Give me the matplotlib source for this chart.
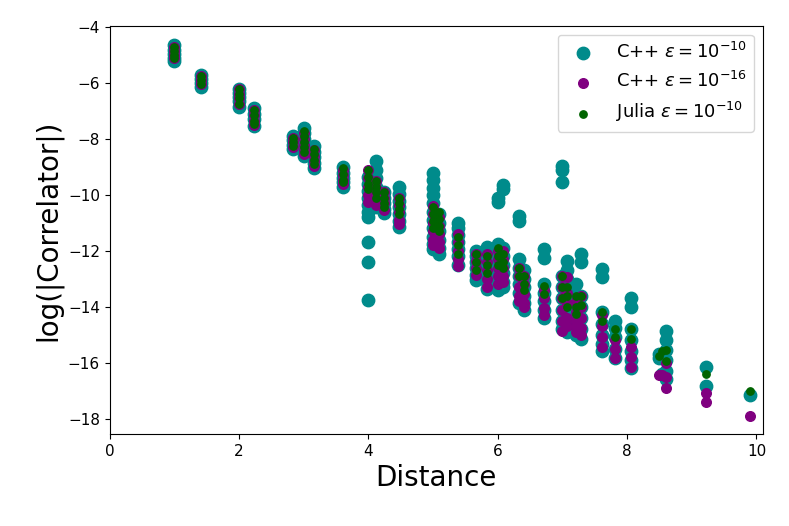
import numpy as np
import matplotlib
matplotlib.use("Agg")
import matplotlib.pyplot as plt

# ---- Data -----------------------------------------------------------------
# distances between sites (sqrt of integer squared distances)
dist = [1.0, 1.414, 2.0, 2.236, 2.828, 3.0, 3.162, 3.606, 4.0, 4.123, 4.243,
        4.472, 5.0, 5.099, 5.385, 5.657, 5.831, 6.0, 6.083, 6.325, 6.403,
        6.708, 7.0, 7.071, 7.211, 7.280, 7.616, 7.810, 8.062, 8.485, 8.544,
        8.602, 9.220, 9.899]

# C++ eps = 1e-10
cpp10_vals = [
    [-4.65, -4.8, -4.95, -5.1, -5.2],
    [-5.7, -5.85, -6.0, -6.15],
    [-6.2, -6.35, -6.5, -6.65, -6.85],
    [-6.9, -7.1, -7.3, -7.55],
    [-7.9, -8.05, -8.2, -8.35],
    [-7.6, -7.8, -8.0, -8.2, -8.4, -8.6],
    [-8.25, -8.45, -8.65, -8.85, -9.05],
    [-9.0, -9.2, -9.4, -9.55, -9.7],
    [-9.35, -9.6, -9.85, -10.1, -10.35, -10.6, -10.8, -11.7, -12.4, -13.75],
    [-8.8, -9.1, -9.4, -9.7, -10.0, -10.3, -10.45],
    [-9.9, -10.1, -10.3, -10.5, -10.65],
    [-9.7, -9.95, -10.2, -10.45, -10.7, -10.95, -11.15],
    [-9.2, -9.45, -9.75, -10.0, -10.3, -10.6, -10.9, -11.2, -11.5, -11.75, -11.95],
    [-10.7, -11.0, -11.3, -11.6, -11.9, -12.1],
    [-11.0, -11.2, -11.45, -11.7, -11.95, -12.2, -12.5],
    [-12.0, -12.2, -12.4, -12.6, -12.85, -13.05],
    [-11.85, -12.1, -12.35, -12.6, -12.85, -13.1, -13.35],
    [-10.1, -10.25, -11.75, -12.0, -12.3, -12.6, -12.9, -13.2, -13.4],
    [-9.65, -9.8, -11.9, -12.2, -12.5, -12.8, -13.1, -13.3],
    [-10.75, -10.95, -12.3, -12.6, -12.9, -13.2, -13.5, -13.85],
    [-12.7, -13.0, -13.3, -13.6, -13.85, -14.1],
    [-11.95, -12.25, -13.2, -13.5, -13.8, -14.1, -14.4],
    [-8.95, -9.1, -9.55, -12.9, -13.3, -13.7, -14.1, -14.5, -14.8],
    [-12.35, -12.7, -13.0, -13.4, -13.8, -14.2, -14.6, -14.9],
    [-13.2, -13.6, -14.0, -14.4, -14.8, -15.0],
    [-12.1, -12.4, -13.6, -14.0, -14.4, -14.8, -15.15],
    [-12.65, -12.95, -14.2, -14.6, -15.0, -15.35, -15.6],
    [-14.5, -14.75, -15.1, -15.5, -15.85],
    [-13.7, -14.0, -14.8, -15.2, -15.6, -15.9, -16.2],
    [-15.7, -15.85],
    [-15.75, -16.4],
    [-14.85, -15.2, -15.55, -15.9, -16.3, -16.6],
    [-16.15, -16.85],
    [-17.15],
]

# C++ eps = 1e-16
cpp16_vals = [
    [-4.7, -4.85, -5.0, -5.1],
    [-5.75, -5.9, -6.05],
    [-6.2, -6.4, -6.55, -6.75],
    [-6.95, -7.15, -7.35, -7.5],
    [-7.95, -8.1, -8.3],
    [-7.8, -8.0, -8.2, -8.4, -8.55],
    [-8.4, -8.6, -8.8, -8.95],
    [-9.1, -9.3, -9.45, -9.6],
    [-9.1, -9.4, -9.7, -10.0, -10.25],
    [-9.5, -9.75, -10.0, -10.2, -10.35],
    [-9.9, -10.1, -10.3, -10.55],
    [-10.1, -10.35, -10.6, -10.9, -11.05],
    [-10.4, -10.7, -11.0, -11.3, -11.6, -11.8],
    [-10.8, -11.1, -11.4, -11.7, -11.9],
    [-11.4, -11.7, -12.0, -12.3, -12.55],
    [-12.1, -12.35, -12.6, -12.85],
    [-12.1, -12.4, -12.7, -13.0, -13.3],
    [-12.0, -12.3, -12.6, -12.9, -13.2],
    [-12.0, -12.3, -12.6, -12.9, -13.1],
    [-12.6, -12.9, -13.3, -13.6, -13.8],
    [-12.9, -13.2, -13.55, -13.85, -14.0],
    [-13.4, -13.7, -14.05, -14.3],
    [-12.9, -13.3, -13.7, -14.1, -14.5, -14.85],
    [-12.95, -13.5, -13.9, -14.4, -14.7],
    [-13.8, -14.2, -14.5, -14.7, -14.9],
    [-13.6, -14.0, -14.4, -14.75, -15.0],
    [-14.3, -14.7, -15.1, -15.45],
    [-15.2, -15.5, -15.85],
    [-15.45, -15.8, -16.15],
    [-16.45],
    [-16.45],
    [-16.0, -16.5, -16.9],
    [-17.1, -17.4],
    [-17.9],
]

# Julia eps = 1e-10
julia_vals = [
    [-4.7, -4.85, -5.0, -5.1],
    [-5.75, -5.9, -6.05],
    [-6.2, -6.4, -6.55, -6.75],
    [-6.95, -7.15, -7.35, -7.45],
    [-7.95, -8.1, -8.25],
    [-7.7, -7.9, -8.1, -8.3, -8.45],
    [-8.35, -8.55, -8.75, -8.9],
    [-9.05, -9.25, -9.45, -9.55],
    [-9.1, -9.35, -9.6, -9.8],
    [-9.5, -9.7, -9.9, -10.1],
    [-9.9, -10.1, -10.3, -10.45],
    [-10.1, -10.3, -10.5, -10.7],
    [-10.45, -10.7, -10.95, -11.2],
    [-10.6, -10.85, -11.1, -11.3],
    [-11.5, -11.8, -12.1],
    [-12.1, -12.4, -12.7],
    [-12.2, -12.5, -12.8],
    [-11.9, -12.2, -12.5],
    [-12.1, -12.4, -12.6],
    [-12.6, -12.9],
    [-12.9, -13.2, -13.4],
    [-13.25, -13.55],
    [-12.9, -13.3, -13.7],
    [-13.3, -13.6, -14.0],
    [-13.6, -14.0, -14.25],
    [-13.6, -13.95],
    [-14.2, -14.5],
    [-14.8, -15.1],
    [-14.8, -15.15],
    [-15.75],
    [-15.6],
    [-15.55, -15.95],
    [-16.4],
    [-17.0],
]


def flatten(vals):
    xs, ys = [], []
    for d, v in zip(dist, vals):
        xs += [d] * len(v)
        ys += v
    return np.array(xs), np.array(ys)


# ---- Plot -----------------------------------------------------------------
fig = plt.figure(figsize=(7.89, 5.26), dpi=100)
ax = fig.add_axes([0.139, 0.175, 0.828, 0.776])

x, y = flatten(cpp10_vals)
ax.scatter(x, y, s=80, color="darkcyan", label=r"C++ $\varepsilon = 10^{-10}$", zorder=2)
x, y = flatten(cpp16_vals)
ax.scatter(x, y, s=48, color="purple", label=r"C++ $\varepsilon = 10^{-16}$", zorder=3)
x, y = flatten(julia_vals)
ax.scatter(x, y, s=28, color="darkgreen", label=r"Julia $\varepsilon = 10^{-10}$", zorder=4)

ax.set_xlim(0, 10.1)
ax.set_ylim(-18.55, -3.95)
ax.set_xticks([0, 2, 4, 6, 8, 10])
ax.set_yticks([-4, -6, -8, -10, -12, -14, -16, -18])
ax.tick_params(labelsize=11)
ax.set_xlabel("Distance", fontsize=20)
ax.set_ylabel("log(|Correlator|)", fontsize=20)
ax.legend(loc="upper right", fontsize=13)

fig.savefig("out.png", dpi=100)
